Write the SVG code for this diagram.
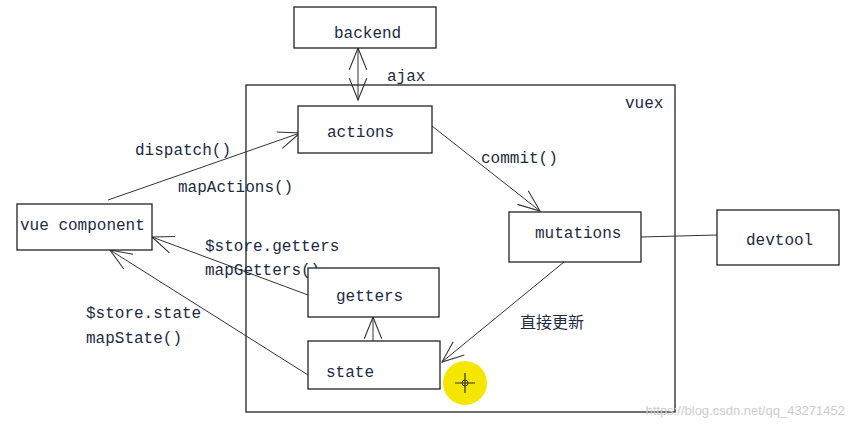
<svg xmlns="http://www.w3.org/2000/svg" width="856" height="428" viewBox="0 0 856 428">
<style>
.b{fill:#fff;stroke:#222;stroke-width:1.3}
.t{font-family:"Liberation Mono","Noto Sans CJK SC",monospace;font-size:16px;fill:#1c2a44}
.c{stroke:#333;stroke-width:1;fill:none}
</style>
<defs>
<marker id="a" markerUnits="userSpaceOnUse" markerWidth="24" markerHeight="24" refX="20" refY="10" orient="auto-start-reverse" viewBox="0 0 22 20">
<path d="M0,2 L20,10 L0,18" fill="none" stroke="#333" stroke-width="1"/>
</marker>
</defs>
<rect width="856" height="428" fill="#fff"/>
<g id="vuex"><rect x="246" y="85" width="429" height="327" fill="none" stroke="#222" stroke-width="1.3"/><text class="t" x="625" y="108">vuex</text></g>
<g id="connectors">
<line class="c" x1="358" y1="48" x2="358" y2="100" marker-start="url(#a)" marker-end="url(#a)"/>
<line class="c" x1="108" y1="200" x2="300" y2="133" marker-end="url(#a)"/>
<line class="c" x1="432" y1="126" x2="540" y2="211" marker-end="url(#a)"/>
<line class="c" x1="641" y1="237" x2="717" y2="235"/>
<line class="c" x1="564" y1="262" x2="442" y2="362" marker-end="url(#a)"/>
<line class="c" x1="373" y1="341" x2="373" y2="317" marker-end="url(#a)"/>
<line class="c" x1="308" y1="295" x2="152" y2="237" marker-end="url(#a)"/>
<line class="c" x1="308" y1="375" x2="110" y2="250" marker-end="url(#a)"/>
</g>
<g class="t">
<text x="387" y="81">ajax</text>
<text x="135" y="155">dispatch()</text>
<text x="178" y="192">mapActions()</text>
<text x="481" y="163">commit()</text>
<text x="205" y="251">$store.getters</text>
<text x="205" y="275">mapGetters()</text>
<text x="86" y="318">$store.state</text>
<text x="86" y="343">mapState()</text>
<text x="520" y="328">直接更新</text>
</g>
<g id="backend"><rect class="b" x="294" y="7" width="142" height="41"/><text class="t" x="334" y="38">backend</text></g>
<g id="actions"><rect class="b" x="298" y="106" width="134" height="47"/><text class="t" x="327" y="137">actions</text></g>
<g id="mutations"><rect class="b" x="509" y="212" width="132" height="50"/><text class="t" x="535" y="238">mutations</text></g>
<g id="devtool"><rect class="b" x="717" y="210" width="122" height="55"/><text class="t" x="746" y="245">devtool</text></g>
<g id="vuecomponent"><rect class="b" x="17" y="204" width="135" height="46"/><text class="t" x="20" y="230">vue component</text></g>
<g id="getters"><rect class="b" x="308" y="268" width="131" height="49"/><text class="t" x="336" y="301">getters</text></g>
<g id="state"><rect class="b" x="308" y="341" width="132" height="48"/><text class="t" x="326" y="377">state</text></g>
<circle cx="465" cy="383" r="22" fill="#f5e600"/>
<path d="M465,373 V393 M455,383 H475" stroke="#333" stroke-width="1.2"/>
<circle cx="465" cy="383" r="3" fill="none" stroke="#333"/>
<text x="845" y="415" text-anchor="end" font-family="Liberation Sans,sans-serif" font-size="13" fill="#ccc">https://blog.csdn.net/qq_43271452</text>
</svg>
